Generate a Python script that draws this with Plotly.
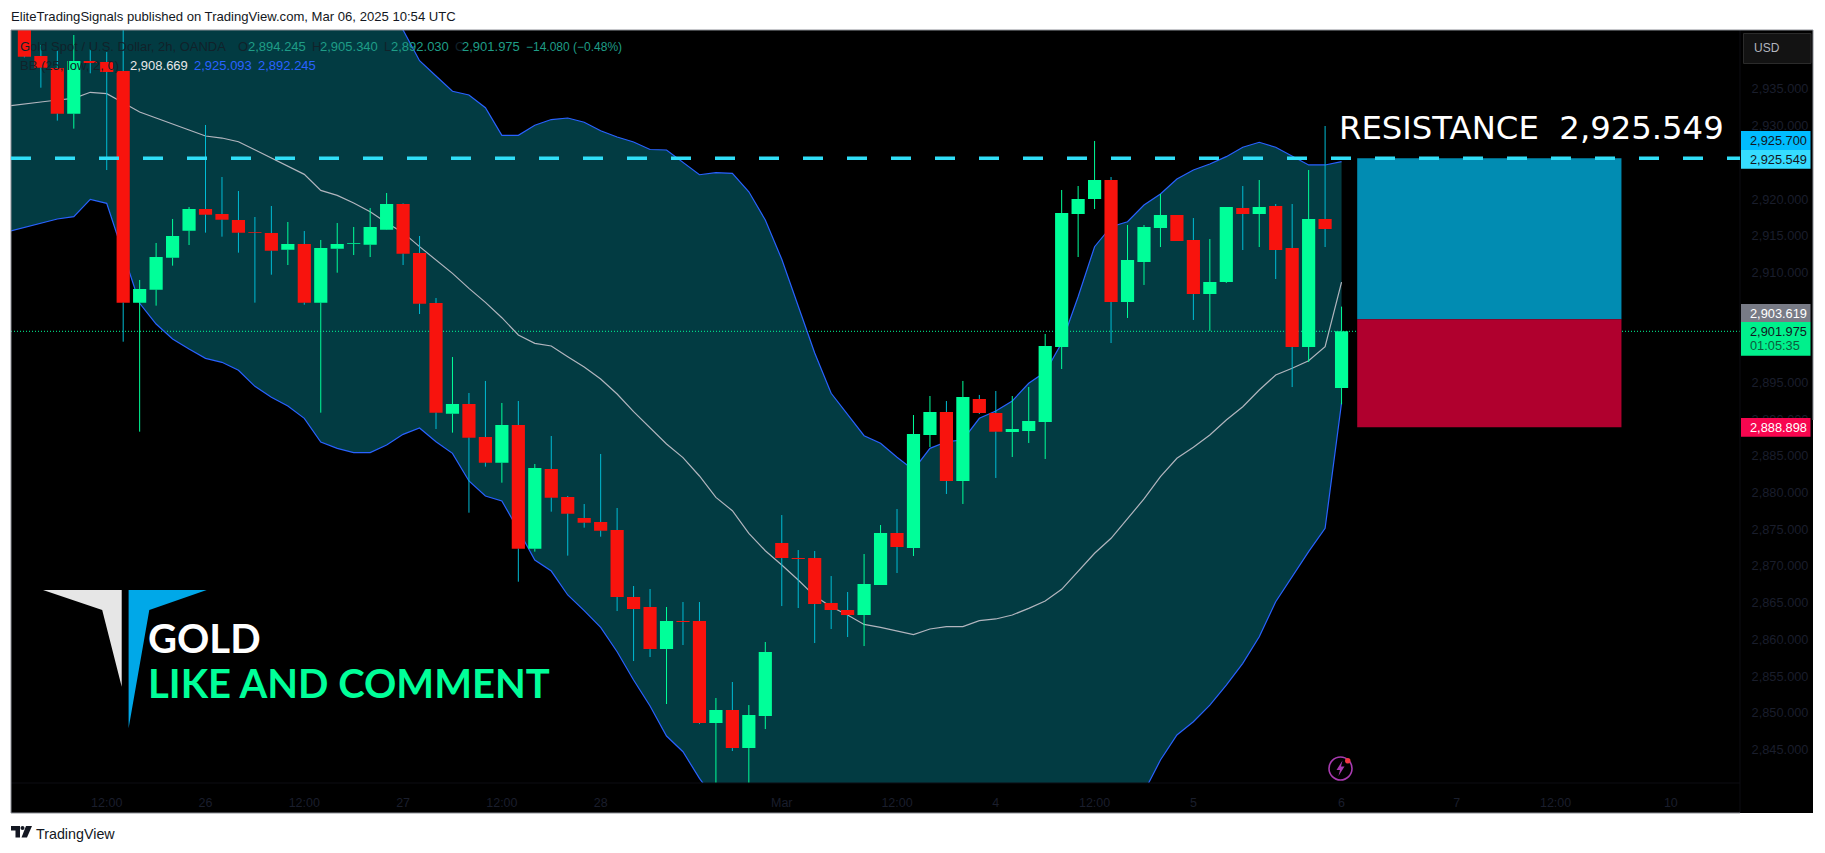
import plotly.graph_objects as go

# ---------- data ----------
open_ = [2945.8,2939.49,2937.85,2931.63,2938.81,2938.67,2937.44,2905.88,2907.65,2912.01,2915.69,2918.64,2917.96,2917.14,2915.51,2915.37,2913.10,2913.87,2905.88,2913.23,2913.92,2913.78,2915.82,2919.32,
 2912.65,2905.83,2890.75,2892.07,2887.57,2884.08,2889.21,2872.36,2883.21,2879.40,2876.54,2875.99,2874.90,2865.77,2864.41,2858.68,2862.50,2862.50,2848.60,2850.37,2845.19,2849.55,2873.13,2871.08,2871.08,2864.95,2864.00,2863.32,2867.40,2874.49,
 2872.45,2887.85,2890.98,2881.58,2892.76,2890.85,2888.26,2888.40,2889.62,2899.84,2917.96,2920.00,2922.59,2905.97,2911.42,2916.05,2917.82,2914.42,2907.06,2908.69,2918.78,2917.96,2919.05,2913.33,2899.84,2917.28,2894.245]
high_ = [2947.6,2940.99,2940.2,2942.35,2940.4,2940.03,2943.5,2908.97,2914.01,2917.28,2918.91,2930.09,2923.0,2921.09,2917.55,2919.05,2916.87,2915.64,2914.42,2916.73,2916.19,2918.78,2920.82,2919.4,
 2914.96,2906.51,2898.47,2893.57,2895.21,2892.21,2892.48,2883.90,2887.71,2879.54,2878.44,2885.26,2877.90,2867.27,2866.86,2864.41,2865.09,2865.09,2852.01,2854.19,2851.05,2859.64,2876.94,2872.17,2872.04,2868.63,2866.45,2871.63,2875.58,2877.76,
 2890.57,2893.16,2892.48,2895.21,2893.30,2893.84,2893.16,2894.39,2901.61,2921.23,2921.77,2927.91,2923.00,2916.46,2916.46,2920.68,2917.82,2917.41,2914.55,2918.91,2921.77,2922.59,2919.32,2919.32,2923.95,2929.95,2905.34]
low_ = [2939.3,2935.17,2930.68,2929.59,2937.13,2923.95,2900.56,2888.30,2905.47,2910.92,2913.73,2915.42,2914.87,2912.69,2905.88,2909.69,2911.01,2905.60,2890.89,2909.96,2912.37,2912.10,2915.78,2911.01,
 2904.33,2888.66,2888.17,2877.26,2883.53,2881.35,2867.86,2871.95,2877.40,2871.41,2875.22,2873.99,2863.86,2857.05,2857.59,2851.19,2859.23,2848.46,2839.70,2844.79,2839.70,2847.78,2864.54,2864.27,2859.50,2861.41,2860.32,2859.09,2867.40,2869.04,
 2871.36,2886.21,2879.81,2878.45,2890.71,2881.99,2884.85,2886.76,2884.58,2896.84,2912.10,2918.64,2900.38,2903.79,2908.29,2913.46,2914.28,2903.52,2902.02,2908.56,2913.05,2913.46,2909.10,2894.38,2897.79,2913.46,2892.03]
close_ = [2939.4,2937.90,2931.63,2938.81,2938.53,2937.31,2905.88,2907.74,2912.10,2914.96,2918.64,2917.87,2917.19,2915.42,2915.42,2912.96,2913.87,2905.88,2913.33,2913.87,2914.01,2916.19,2919.32,2912.55,
 2905.74,2890.89,2892.07,2887.48,2884.08,2889.21,2872.36,2883.35,2879.31,2877.13,2875.90,2874.81,2865.77,2864.13,2858.68,2862.50,2862.36,2848.60,2850.37,2845.19,2849.69,2858.27,2871.08,2870.95,2864.82,2864.00,2863.32,2867.54,2874.49,2872.58,
 2887.98,2890.98,2881.58,2893.03,2890.85,2888.30,2888.67,2889.76,2899.98,2918.10,2920.00,2922.59,2905.97,2911.69,2916.19,2917.82,2914.28,2907.06,2908.69,2918.91,2917.96,2918.91,2913.05,2899.84,2917.28,2915.92,2901.975]

upper = [2962,2961,2960,2959.5,2959,2958.5,2958,2957.5,2957,2956,2955,2954,2953,2952,2951,2950.5,2950,2949.5,2949,2948,2947.5,2946.5,2945.5,2944.5,
 2943.03,2938.85,2936.76,2934.68,2934.17,2932.44,2928.68,2928.68,2930.05,2930.83,2931.04,2930.46,2929.30,2928.45,2927.77,2926.75,2926.68,2924.95,2923.31,2923.59,2923.50,2920.99,2917.14,2911.79,2905.33,2899.02,2893.53,2890.57,2887.75,2886.72,2884.81,2883.08,2886.03,2886.93,2887.17,2890.12,2891.12,2892.48,2894.89,2896.43,2900.38,2906.69,2913.50,2916.23,2916.91,2919.19,2920.69,2922.73,2923.96,2924.77,2925.77,2927.05,2927.73,2927.05,2925.86,2924.64,2924.64,2925.093]
lower = [2915.55,2916.10,2916.64,2917.28,2917.60,2919.96,2919.41,2912.73,2905.79,2902.97,2900.93,2899.56,2898.29,2897.75,2896.66,2894.48,2892.98,2891.80,2890.12,2886.89,2886.03,2885.44,2885.44,2886.48,
 2887.94,2888.80,2886.94,2885.35,2881.58,2879.54,2878.86,2874.90,2870.81,2869.31,2866.05,2863.91,2861.63,2858.32,2854.46,2850.92,2846.83,2844.69,2841.06,2838.0,2835.5,2833.5,2832.0,2831.0,2830.5,2830.0,2829.8,2829.5,2829.5,2829.5,2829.5,2829.6,2829.8,2830.0,2830.2,2830.5,2830.8,2831.2,2831.6,2832.0,2832.5,2833.0,2833.8,2834.2,2834.7,2839.2,2843.56,2846.97,2848.78,2851.05,2853.78,2856.74,2860.36,2865.13,2868.54,2871.95,2875.13,2892.245]
basis = [2932.67,2932.90,2933.22,2933.49,2933.72,2934.54,2934.36,2933.13,2931.86,2931.04,2930.18,2929.40,2928.59,2928.31,2927.81,2926.68,2925.59,2924.50,2923.36,2921.18,2920.50,2919.46,2918.27,2916.78,
 2915.42,2913.51,2911.69,2909.87,2907.83,2905.92,2903.83,2901.47,2900.34,2899.97,2898.52,2897.11,2895.48,2893.43,2891.03,2888.89,2886.62,2884.76,2882.26,2879.35,2877.53,2874.44,2872.08,2870.13,2868.09,2865.90,2864.45,2863.31,2862.04,
 2861.64,2861.14,2860.64,2861.41,2861.73,2861.73,2862.55,2862.78,2863.32,2864.23,2865.23,2866.82,2869.23,2871.73,2873.77,2876.40,2879.13,2882.17,2884.67,2886.17,2887.85,2889.89,2891.70,2893.98,2896.02,2896.94,2897.97,2899.88,2908.669]

y_ticks = [2845,2850,2855,2860,2865,2870,2875,2880,2885,2890,2895,2910,2915,2920,2930,2935]
x_tick_pos = [5,11,17,23,29,35,46,53,59,65,71,80,87,93,100]
x_tick_txt = ["12:00","26","12:00","27","12:00","28","Mar","12:00","4","12:00","5","6","7","12:00","10"]

resistance = 2925.549
entry = 2903.619
stop = 2888.898
last = 2901.975

# ---------- geometry ----------
W, H = 1825, 853
L, R, T, B = 11, 1740, 30, 783
X_RANGE = [-0.814, 104.2]
Y_RANGE = [2840.43, 2943.03]
px = lambda v: (v - L) / (R - L)
py = lambda v: (B - v) / (B - T)

FONT = "Liberation Sans"
TICK = "#1a1e2c"
RED, GREEN, WICK_R, TEAL, BLUE, GREY = "#f8130d", "#00ff99", "#00bcd4", "#023b42", "#2962ff", "#b2b5be"

idx = list(range(len(open_)))
band_x = list(range(-1, len(open_)))

wx_r, wy_r, wx_g, wy_g = [], [], [], []
for i, (o, h, l, c) in enumerate(zip(open_, high_, low_, close_)):
    top, bot = max(o, c), min(o, c)
    xs, ys = (wx_g, wy_g) if c >= o else (wx_r, wy_r)
    xs += [i, i, None, i, i, None]
    ys += [h, top, None, bot, l, None]

fig = go.Figure()
# Bollinger band and last-price line on the base axes, candles above them on an overlay.
fig.add_trace(go.Scatter(x=band_x, y=upper, mode="lines", line=dict(width=0), hoverinfo="skip"))
fig.add_trace(go.Scatter(x=band_x, y=lower, mode="lines", line=dict(width=0), fill="tonexty",
                         fillcolor=TEAL, hoverinfo="skip"))
fig.add_trace(go.Scatter(x=X_RANGE, y=[last, last], mode="lines",
                         line=dict(color=GREEN, width=1, dash="1px,2px"), hoverinfo="skip"))
fig.add_trace(go.Scatter(x=band_x, y=upper, mode="lines", line=dict(color=BLUE, width=1.2)))
fig.add_trace(go.Scatter(x=band_x, y=lower, mode="lines", line=dict(color=BLUE, width=1.2)))
fig.add_trace(go.Scatter(x=band_x, y=basis, mode="lines", line=dict(color=GREY, width=1.2)))

fig.add_trace(go.Candlestick(
    x=idx, open=open_, high=high_, low=low_, close=close_, xaxis="x2", yaxis="y2",
    increasing=dict(fillcolor=GREEN, line=dict(color=GREEN, width=0)),
    decreasing=dict(fillcolor=RED, line=dict(color=RED, width=0)),
))
fig.add_trace(go.Scatter(x=wx_r, y=wy_r, mode="lines", xaxis="x2", yaxis="y2",
                         line=dict(color=WICK_R, width=1), connectgaps=False))
fig.add_trace(go.Scatter(x=wx_g, y=wy_g, mode="lines", xaxis="x2", yaxis="y2",
                         line=dict(color=GREEN, width=1), connectgaps=False))

shapes = []
def rect(x0, y0, x1, y1, fill, line=None, layer="above", lw=1):
    shapes.append(dict(type="rect", xref="paper", yref="paper", x0=px(x0), x1=px(x1), y0=py(y0), y1=py(y1),
                       fillcolor=fill, layer=layer, line=dict(color=line or fill, width=lw if line else 0)))
def seg(x0, y0, x1, y1, color, lw=1):
    shapes.append(dict(type="line", xref="paper", yref="paper", x0=px(x0), x1=px(x1), y0=py(y0), y1=py(y1),
                       layer="above", line=dict(color=color, width=lw)))
def poly(points, fill, line=None, lw=0):
    d = "M " + " L ".join(f"{px(a):.5f},{py(b):.5f}" for a, b in points) + " Z"
    shapes.append(dict(type="path", xref="paper", yref="paper", path=d, fillcolor=fill, layer="above",
                       line=dict(color=line or fill, width=lw)))

# chart frame
rect(L, T, 1813, 813, "#000000", layer="below")
seg(R, T, R, 813, "#0c0d12")
seg(L, B, R, B, "#0c0d12")
seg(L, T, 1813, T, "#8c8f96")
seg(L, T, L, 813, "#8c8f96")
seg(L, 813, R, 813, "#8c8f96")
seg(1813, T, 1813, 420, "#8c8f96")

# long / short position boxes
shapes.append(dict(type="rect", xref="x", yref="y", x0=80.95, x1=97.0, y0=entry, y1=resistance,
                   fillcolor="#018cb2", layer="above", line=dict(width=0)))
shapes.append(dict(type="rect", xref="x", yref="y", x0=80.95, x1=97.0, y0=stop, y1=entry,
                   fillcolor="#b0002e", layer="above", line=dict(width=0)))
# resistance line
shapes.append(dict(type="line", xref="paper", yref="y", x0=0, x1=1, y0=resistance, y1=resistance,
                   layer="above", line=dict(color="#30def7", width=3.5, dash="20px,24px")))

# USD button
rect(1743.5, 33.5, 1811, 63.5, "#131313", "#2b2b2b")
# price labels
rect(1741, 131, 1810.5, 150, "#00bcff")
rect(1741, 150, 1810.5, 168.7, "#36dcff")
rect(1741, 304, 1810.5, 322, "#787b86")
rect(1741, 322, 1810.5, 355.7, "#00f08c")
rect(1741, 418, 1810.5, 436.7, "#f7064f")

# logo
poly([(43, 590), (121.7, 590), (121.7, 686.7), (102.2, 610)], "#e6e6e6")
poly([(128.6, 590), (206.7, 590), (149.3, 610), (128.6, 728.3)], "#00a8e8")

# lightning badge
shapes.append(dict(type="circle", xref="paper", yref="paper", x0=px(1329), x1=px(1352), y0=py(757), y1=py(780),
                   layer="above", line=dict(color="#a83bb0", width=1.6)))
poly([(1342.5, 760.5), (1336.5, 770), (1340, 770), (1338.5, 776), (1344.5, 766.5), (1341, 766.5)], "#a83bb0")
shapes.append(dict(type="circle", xref="paper", yref="paper", x0=px(1345), x1=px(1350.5), y0=py(758), y1=py(763.5),
                   layer="above", fillcolor="#f23645", line=dict(width=0)))

# TradingView mark
poly([(11, 826), (20, 826), (20, 837.5), (15.5, 837.5), (15.5, 830.5), (11, 830.5)], "#131722")
poly([(26, 826), (32, 826), (27, 837.5), (21.5, 837.5)], "#131722")
shapes.append(dict(type="circle", xref="paper", yref="paper", x0=px(20.5), x1=px(24.5), y0=py(826), y1=py(830),
                   layer="above", fillcolor="#131722", line=dict(width=0)))

ann = []
def text(x, y, s, size=13, color="#131722", family=FONT, weight="normal"):
    ann.append(dict(xref="paper", yref="paper", x=px(x), y=py(y), text=s, showarrow=False, xanchor="left",
                    yanchor="middle", xshift=-2, align="left",
                    font=dict(family=family, size=size, color=color, weight=weight)))

text(11, 16, "EliteTradingSignals published on TradingView.com, Mar 06, 2025 10:54 UTC", 13.1, "#131722")
text(36, 834, "TradingView", 14.3, "#131722")

LEG_DARK, LEG_VAL = "#11222a", "#1f9d87"
text(20, 46.7, "Gold Spot / U.S. Dollar, 2h, OANDA", 13, LEG_DARK)
for x, s in [(238, "O"), (312, "H"), (384, "L"), (455, "C")]:
    text(x, 46.7, s, 13, LEG_DARK)
for x, s in [(248, "2,894.245"), (320, "2,905.340"), (391, "2,892.030"), (462, "2,901.975")]:
    text(x, 46.7, s, 13, LEG_VAL)
text(526, 46.7, "−14.080 (−0.48%)", 12, LEG_VAL)
text(20, 65.7, "BB (25, low, 2, 0)", 13, LEG_DARK)
text(130, 65.7, "2,908.669", 13, "#e8e8e8")
text(193.5, 65.7, "2,925.093", 13, BLUE)
text(258, 65.7, "2,892.245", 13, BLUE)

text(1754, 48, "USD", 12, "#b2b5be")
text(1749.5, 140.5, "2,925.700", 12.8, "#131722")
text(1749.5, 159.3, "2,925.549", 12.8, "#131722")
text(1749.5, 313, "2,903.619", 12.8, "#ffffff")
text(1749.5, 331, "2,901.975", 12.8, "#131722")
text(1749.5, 346, "01:05:35", 12.8, "#0c5c3c")
text(1749.5, 427.3, "2,888.898", 12.8, "#ffffff")

text(1339, 128, "RESISTANCE&nbsp;&nbsp;2,925.549", 32.3, "#ffffff", "DejaVu Sans")
text(148, 638, "GOLD", 40, "#ffffff", "Lato", "bold")
text(148, 683, "LIKE AND COMMENT", 40, GREEN, "Lato", "bold")

fig.update_layout(
    width=W, height=H, autosize=False, showlegend=False,
    margin=dict(l=L, r=W - R, t=T, b=H - B, pad=0),
    paper_bgcolor="#ffffff", plot_bgcolor="#000000",
    boxgap=0.2, boxgroupgap=0, hovermode=False,
    shapes=shapes, annotations=ann,
    xaxis=dict(range=X_RANGE, tickmode="array", tickvals=x_tick_pos, ticktext=x_tick_txt,
               showgrid=False, zeroline=False, showline=False, ticks="outside", ticklen=8,
               tickcolor="rgba(0,0,0,0)", tickangle=0, tickfont=dict(family=FONT, size=12.5, color=TICK)),
    yaxis=dict(range=Y_RANGE, side="right", tickmode="array", tickvals=y_ticks,
               ticktext=[f"{v:,.3f}" for v in y_ticks], showgrid=False, zeroline=False, showline=False,
               ticks="outside", ticklen=8, tickcolor="rgba(0,0,0,0)",
               tickfont=dict(family=FONT, size=12.8, color=TICK)),
    xaxis2=dict(range=X_RANGE, overlaying="x", visible=False, rangeslider=dict(visible=False)),
    yaxis2=dict(range=Y_RANGE, overlaying="y", visible=False),
)
fig.write_html("out.html", config={"displayModeBar": False},
               post_script="document.body.style.margin='0';document.body.style.overflow='hidden';")
